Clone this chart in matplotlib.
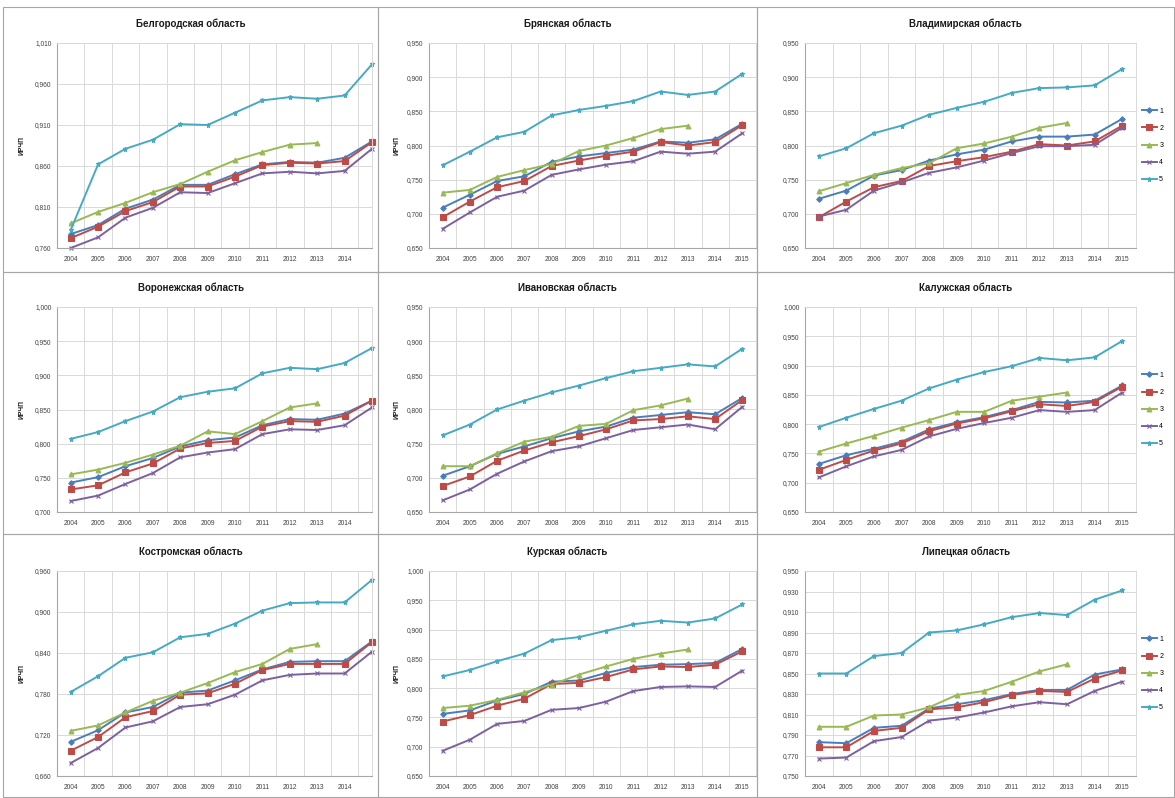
# индексы по регионам, 2004-2015, девять областей в сетке 3x3

import matplotlib.pyplot as plt
from matplotlib.patches import Rectangle

plt.rcParams['font.family'] = ['Liberation Sans', 'DejaVu Sans']

years = list(range(2004, 2016))
series_names = ['1', '2', '3', '4', '5']

# ряды 1..5 для каждой области (ряд 3 только до 2013 г.)
belgorod = [
    [0.777, 0.788, 0.808, 0.819, 0.837, 0.837, 0.850, 0.862, 0.865, 0.864, 0.870, 0.890],
    [0.772, 0.786, 0.805, 0.816, 0.835, 0.835, 0.847, 0.861, 0.864, 0.863, 0.866, 0.889],
    [0.790, 0.804, 0.815, 0.828, 0.838, 0.853, 0.867, 0.877, 0.886, 0.888],
    [0.760, 0.773, 0.797, 0.809, 0.828, 0.827, 0.839, 0.851, 0.853, 0.851, 0.854, 0.881],
    [0.782, 0.862, 0.881, 0.892, 0.911, 0.910, 0.925, 0.940, 0.944, 0.942, 0.946, 0.984],
]
bryansk = [
    [0.709, 0.728, 0.748, 0.755, 0.776, 0.784, 0.789, 0.794, 0.806, 0.804, 0.809, 0.832],
    [0.695, 0.718, 0.739, 0.748, 0.770, 0.778, 0.785, 0.791, 0.805, 0.800, 0.805, 0.830],
    [0.731, 0.735, 0.754, 0.764, 0.773, 0.792, 0.800, 0.811, 0.824, 0.829],
    [0.678, 0.702, 0.725, 0.734, 0.757, 0.765, 0.772, 0.777, 0.791, 0.788, 0.791, 0.818],
    [0.771, 0.791, 0.812, 0.820, 0.844, 0.852, 0.858, 0.865, 0.879, 0.874, 0.879, 0.905],
]
vladimir = [
    [0.722, 0.734, 0.756, 0.764, 0.778, 0.787, 0.794, 0.806, 0.813, 0.813, 0.816, 0.839],
    [0.695, 0.718, 0.739, 0.748, 0.770, 0.777, 0.783, 0.791, 0.802, 0.800, 0.806, 0.829],
    [0.733, 0.745, 0.757, 0.767, 0.774, 0.796, 0.803, 0.813, 0.826, 0.833],
    [0.696, 0.706, 0.734, 0.746, 0.760, 0.768, 0.778, 0.789, 0.799, 0.799, 0.801, 0.826],
    [0.784, 0.796, 0.818, 0.829, 0.845, 0.855, 0.864, 0.877, 0.884, 0.885, 0.888, 0.912],
]
voronezh = [
    [0.743, 0.751, 0.767, 0.779, 0.796, 0.805, 0.809, 0.827, 0.836, 0.835, 0.844, 0.863],
    [0.733, 0.739, 0.758, 0.771, 0.793, 0.801, 0.804, 0.825, 0.833, 0.832, 0.841, 0.863],
    [0.755, 0.762, 0.772, 0.784, 0.797, 0.818, 0.814, 0.833, 0.853, 0.859],
    [0.716, 0.724, 0.741, 0.757, 0.780, 0.787, 0.792, 0.814, 0.821, 0.820, 0.827, 0.853],
    [0.807, 0.817, 0.833, 0.847, 0.868, 0.876, 0.881, 0.903, 0.911, 0.909, 0.918, 0.940],
]
ivanovo = [
    [0.703, 0.717, 0.735, 0.746, 0.758, 0.768, 0.775, 0.788, 0.792, 0.796, 0.793, 0.817],
    [0.688, 0.702, 0.725, 0.740, 0.752, 0.761, 0.771, 0.784, 0.786, 0.790, 0.786, 0.814],
    [0.717, 0.717, 0.736, 0.753, 0.760, 0.776, 0.779, 0.799, 0.806, 0.816],
    [0.667, 0.683, 0.706, 0.724, 0.739, 0.746, 0.758, 0.770, 0.774, 0.778, 0.771, 0.804],
    [0.762, 0.778, 0.800, 0.813, 0.825, 0.835, 0.846, 0.856, 0.861, 0.866, 0.863, 0.889],
]
kaluga = [
    [0.732, 0.747, 0.758, 0.770, 0.791, 0.803, 0.812, 0.824, 0.838, 0.837, 0.840, 0.866],
    [0.722, 0.739, 0.755, 0.767, 0.788, 0.801, 0.810, 0.822, 0.834, 0.831, 0.838, 0.864],
    [0.753, 0.767, 0.780, 0.794, 0.807, 0.821, 0.821, 0.840, 0.847, 0.854],
    [0.709, 0.728, 0.745, 0.756, 0.779, 0.792, 0.802, 0.811, 0.824, 0.821, 0.824, 0.854],
    [0.795, 0.811, 0.826, 0.840, 0.861, 0.876, 0.889, 0.899, 0.913, 0.909, 0.914, 0.942],
]
kostroma = [
    [0.710, 0.727, 0.753, 0.761, 0.782, 0.785, 0.800, 0.816, 0.827, 0.828, 0.828, 0.857],
    [0.697, 0.717, 0.746, 0.755, 0.779, 0.781, 0.795, 0.815, 0.824, 0.824, 0.824, 0.856],
    [0.726, 0.734, 0.753, 0.770, 0.782, 0.796, 0.812, 0.824, 0.846, 0.853],
    [0.679, 0.701, 0.731, 0.740, 0.761, 0.765, 0.779, 0.800, 0.808, 0.810, 0.810, 0.842],
    [0.783, 0.806, 0.833, 0.841, 0.863, 0.868, 0.883, 0.902, 0.913, 0.914, 0.914, 0.947],
]
kursk = [
    [0.756, 0.762, 0.779, 0.790, 0.811, 0.813, 0.826, 0.836, 0.840, 0.841, 0.843, 0.867],
    [0.743, 0.754, 0.770, 0.782, 0.807, 0.809, 0.819, 0.832, 0.837, 0.836, 0.840, 0.863],
    [0.766, 0.770, 0.780, 0.793, 0.806, 0.823, 0.837, 0.850, 0.859, 0.866],
    [0.693, 0.712, 0.739, 0.744, 0.763, 0.766, 0.777, 0.795, 0.802, 0.803, 0.802, 0.830],
    [0.820, 0.831, 0.846, 0.859, 0.882, 0.887, 0.898, 0.909, 0.915, 0.912, 0.919, 0.943],
]
lipetsk = [
    [0.783, 0.782, 0.797, 0.799, 0.816, 0.820, 0.824, 0.830, 0.834, 0.834, 0.849, 0.854],
    [0.778, 0.778, 0.794, 0.797, 0.815, 0.817, 0.822, 0.829, 0.833, 0.832, 0.845, 0.853],
    [0.798, 0.798, 0.809, 0.810, 0.817, 0.829, 0.833, 0.842, 0.852, 0.859],
    [0.767, 0.768, 0.784, 0.788, 0.804, 0.807, 0.812, 0.818, 0.822, 0.820, 0.833, 0.842],
    [0.850, 0.850, 0.867, 0.870, 0.890, 0.892, 0.898, 0.905, 0.909, 0.907, 0.922, 0.931],
]

titles = ['Белгородская область', 'Брянская область', 'Владимирская область',
          'Воронежская область', 'Ивановская область', 'Калужская область',
          'Костромская область', 'Курская область', 'Липецкая область']
regions = [belgorod, bryansk, vladimir, voronezh, ivanovo, kaluga, kostroma, kursk, lipetsk]

# шкалы по оси Y: (минимум, максимум, шаг)
y_scales = [(0.760, 1.010, 0.05), (0.650, 0.950, 0.05), (0.650, 0.950, 0.05),
            (0.700, 1.000, 0.05), (0.650, 0.950, 0.05), (0.650, 1.000, 0.05),
            (0.660, 0.960, 0.06), (0.650, 1.000, 0.05), (0.750, 0.950, 0.02)]

colors = ['#4A7EBB', '#BE4B48', '#98B954', '#7D60A0', '#46AAC5']
markers = ['D', 's', '^', 'x', '*']
msizes = [2.8, 4.5, 3.5, 3.2, 3.6]

W, H = 1175, 798
fig = plt.figure(figsize=(W / 100, H / 100), dpi=100)

# рамки областей диаграмм (в пикселях)
col_x = [(57, 372), (429, 756), (805, 1136)]
row_y = [(43, 248), (307, 512), (571, 776)]
frames_x = [(3, 378), (378, 757), (757, 1174)]
frames_y = [(7, 272), (272, 534), (534, 797)]

for r in range(3):
    for c in range(3):
        x0, x1 = frames_x[c]
        y0, y1 = frames_y[r]
        fig.add_artist(Rectangle((x0 / W, 1 - y1 / H), (x1 - x0) / W, (y1 - y0) / H,
                                 transform=fig.transFigure, fill=False,
                                 edgecolor='#A6A6A6', lw=0.8))


def px_axes(x0, x1, y0, y1):
    return fig.add_axes([x0 / W, 1 - y1 / H, (x1 - x0) / W, (y1 - y0) / H])


for i, data in enumerate(regions):
    r, c = divmod(i, 3)
    x0, x1 = col_x[c]
    y0, y1 = row_y[r]
    ax = px_axes(x0, x1, y0, y1)

    for k, vals in enumerate(data):
        ax.plot(years[:len(vals)], vals, color=colors[k], marker=markers[k],
                markersize=msizes[k], lw=1.4, label=series_names[k],
                markeredgewidth=0.8, clip_on=False)

    lo, hi, step = y_scales[i]
    n = round((hi - lo) / step)
    yt = [lo + j * step for j in range(n + 1)]
    ax.set_ylim(lo, hi)
    ax.set_yticks(yt)
    ax.set_yticklabels([f'{v:.3f}'.replace('.', ',') for v in yt])

    # левый столбец обрезан справа на 2015 году
    if c == 0:
        ax.set_xlim(2003.5, 2015.0)
        ax.set_xticks(years[:-1])
        ax.set_xticklabels([str(y) for y in years[:-1]])
    else:
        ax.set_xlim(2003.5, 2015.5)
        ax.set_xticks(years)
        ax.set_xticklabels([str(y) for y in years])
    ax.set_xticks([y + 0.5 for y in years[:-1]], minor=True)

    ax.grid(True, axis='y', color='#D9D9D9', lw=0.7)
    ax.grid(True, axis='x', which='minor', color='#D9D9D9', lw=0.7)
    ax.set_axisbelow(True)
    ax.tick_params(axis='both', which='both', length=0, labelsize=4.8,
                   colors='#404040', pad=4)
    ax.tick_params(axis='x', pad=6)
    for side in ['top', 'right']:
        ax.spines[side].set_color('#D9D9D9')
        ax.spines[side].set_linewidth(0.7)
    for side in ['left', 'bottom']:
        ax.spines[side].set_color('#A6A6A6')
        ax.spines[side].set_linewidth(0.8)

    fig.text((frames_x[c][0] + frames_x[c][1]) / 2 / W, 1 - (y0 - 19) / H, titles[i],
             ha='center', va='center', fontsize=7, fontweight='bold', color='#1A1A1A')

    if c < 2:
        fig.text((frames_x[c][0] + 19) / W, 1 - (y0 + y1) / 2 / H, 'ИРЧП',
                 rotation=90, ha='center', va='center', fontsize=4.8,
                 fontweight='bold', color='#1A1A1A')
    else:
        ax.legend(loc='center left', bbox_to_anchor=(1.005, 0.5), frameon=False,
                  fontsize=5, handlelength=2.2, labelspacing=1.45,
                  handletextpad=0.3, borderaxespad=0.2)

fig.savefig('out.png', dpi=100, facecolor='white')
